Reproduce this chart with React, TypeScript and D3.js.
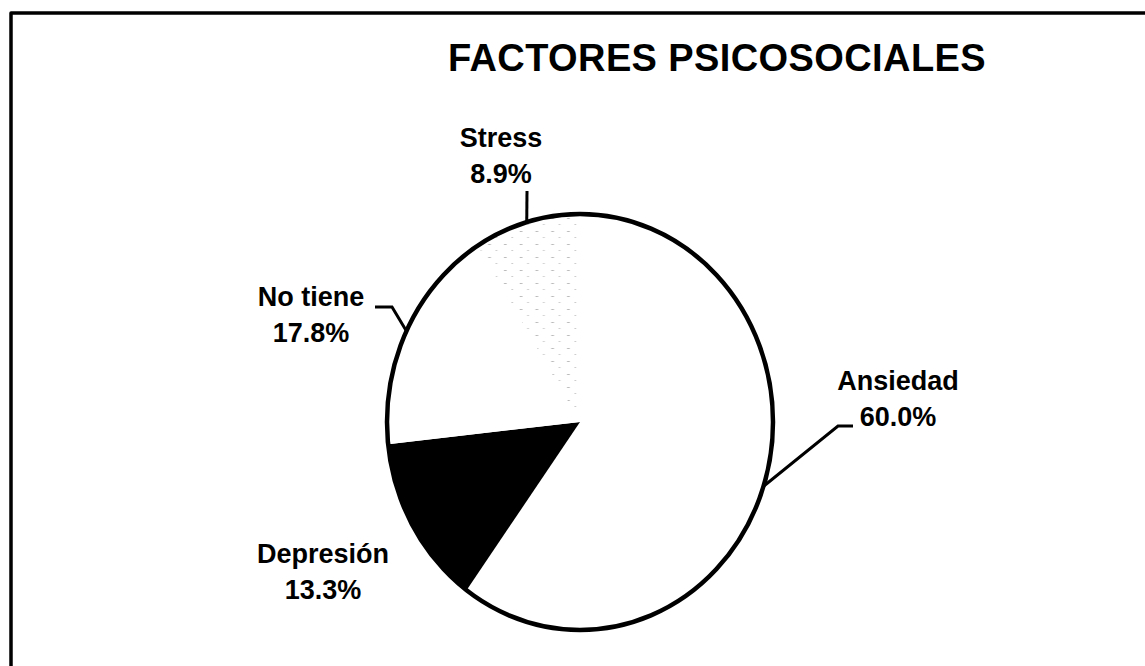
import React from 'react';
import * as d3 from 'd3';

// Factores psicosociales (%), clockwise from 12 o'clock
const categories = ['Ansiedad', 'Depresión', 'No tiene', 'Stress'];
const values = [60.0, 13.3, 17.8, 8.9];
const valueLabels = ['60.0%', '13.3%', '17.8%', '8.9%'];
const chartTitle = 'FACTORES PSICOSOCIALES';

const W = 1145;
const H = 666;
const cx = 580;
const cy = 422;
const rx = 193;
const ry = 208;

const FONT = '"Liberation Sans", Arial, Helvetica, sans-serif';

// label layout: text center + baseline, and the elbow of the leader (null = no leader)
const labelPos: Record<string, { x: number; y: number; elbow: [number, number][] | null }> = {
  Ansiedad: { x: 898, y: 390, elbow: [[853, 426], [838, 426]] },
  'Depresión': { x: 323, y: 563, elbow: null },
  'No tiene': { x: 311, y: 306, elbow: [[375, 307], [392, 307]] },
  Stress: { x: 501, y: 147, elbow: [[527, 191]] },
};

const fills: Record<string, string> = {
  Ansiedad: '#ffffff',
  'Depresión': '#000000',
  'No tiene': '#ffffff',
  Stress: 'url(#stressDots)',
};

export default function App() {
  const data = categories.map((c, i) => ({ name: c, value: values[i], label: valueLabels[i] }));

  const pie = d3
    .pie<{ name: string; value: number; label: string }>()
    .sort(null)
    .value((d) => d.value)
    .startAngle(0)
    .endAngle(2 * Math.PI);
  const arcs = pie(data);

  // draw on a circle of radius ry and squash horizontally into the ellipse
  const arc = d3.arc<d3.PieArcDatum<any>>().innerRadius(0).outerRadius(ry);
  const sx = rx / ry;

  // point on the ellipse rim at a pie angle
  const rim = (a: number): [number, number] => [cx + rx * Math.sin(a), cy - ry * Math.cos(a)];

  const line = d3.line();

  return (
    <svg width={W} height={H} style={{ position: 'absolute', left: 0, top: 0, background: '#fff' }}>
      <defs>
        <pattern id="stressDots" width="17" height="13" patternUnits="userSpaceOnUse">
          <rect width="17" height="13" fill="#fff" />
          <rect x="3" y="4" width="3" height="1" fill="#bbb" />
          <rect x="11" y="10" width="2" height="1" fill="#ccc" />
        </pattern>
      </defs>

      {/* frame (cropped at right / bottom) */}
      <path d={`M11,${H + 5} V13 H${W + 5}`} fill="none" stroke="#000" strokeWidth={3.5} strokeLinejoin="round" />

      <text
        x={717}
        y={71}
        textAnchor="middle"
        fontFamily={FONT}
        fontWeight="bold"
        fontSize={38}
        letterSpacing={0.4}
        fill="#000"
      >
        {chartTitle}
      </text>

      <g transform={`translate(${cx},${cy}) scale(${sx},1)`}>
        {arcs.map((a) => (
          <path key={a.data.name} d={arc(a) as string} fill={fills[a.data.name]} stroke="none" />
        ))}
        <ellipse cx={0} cy={0} rx={ry} ry={ry} fill="none" stroke="#000" strokeWidth={4.5} vectorEffect="non-scaling-stroke" />
      </g>

      {arcs.map((a) => {
        const p = labelPos[a.data.name];
        const mid = (a.startAngle + a.endAngle) / 2;
        return (
          <g key={a.data.name}>
            {p.elbow && (
              <path
                d={line([...p.elbow, rim(mid)]) as string}
                fill="none"
                stroke="#000"
                strokeWidth={3}
              />
            )}
            <text
              textAnchor="middle"
              fontFamily={FONT}
              fontWeight="bold"
              fontSize={27}
              fill="#000"
            >
              <tspan x={p.x} y={p.y}>{a.data.name}</tspan>
              <tspan x={p.x} y={p.y + 36}>{a.data.label}</tspan>
            </text>
          </g>
        );
      })}
    </svg>
  );
}
